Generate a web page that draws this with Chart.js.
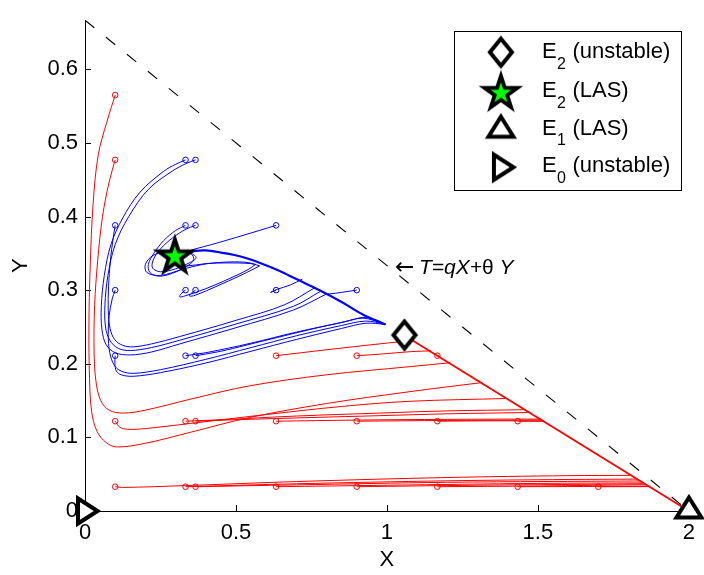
<!DOCTYPE html>
<html>
<head>
<meta charset="utf-8">
<script src="https://cdn.jsdelivr.net/npm/chart.js@4.4.0/dist/chart.umd.min.js"></script>
<style>
  html, body { margin: 0; padding: 0; background: #fff; }
  #wrap { position: relative; width: 704px; height: 575px; }
</style>
</head>
<body>
<div id="wrap"><canvas id="phaseChart"></canvas></div>
<script>
// ================================
// Data
// ================================
const xTicks = [0, 0.5, 1, 1.5, 2];
const yTicks = [0, 0.1, 0.2, 0.3, 0.4, 0.5, 0.6];
const xMax = 2;
const yMax = 0.6667;

// equilibria
const e0 = [0, 0];
const e1 = [2, 0];
const e2Unstable = [1.058, 0.239];
const e2Stable = [0.2975, 0.3455];

// T = qX + θY boundary
const boundary = [[0, 0.6667], [2, 0]];
const noteAt = [1.03, 0.3224];

// legend text
const legendSubs = ['2', '2', '1', '0'];
const legendTags = ['(unstable)', '(LAS)', '(LAS)', '(unstable)'];

// red orbits (go to E1)
const redA = [[0.1,0.565],[0.072,0.528],[0.044,0.484],[0.027,0.418],[0.017,0.33],[0.013,0.25],[0.015,0.18],[0.022,0.135],[0.04,0.108],[0.07,0.093],[0.105,0.087],[0.2,0.092],[0.35,0.107],[0.545,0.127],[0.8,0.146],[1.074,0.162],[1.315,0.1745]];
const redB = [[0.1,0.477],[0.08,0.447],[0.058,0.40],[0.042,0.34],[0.032,0.28],[0.03,0.22],[0.036,0.177],[0.052,0.15],[0.08,0.137],[0.125,0.133],[0.2,0.137],[0.35,0.152],[0.545,0.17],[0.8,0.185],[1.074,0.196],[1.21,0.2014]];
const redC = [[0.1,0.122],[0.115,0.114],[0.14,0.111],[0.2,0.112],[0.35,0.119],[0.6,0.131],[0.85,0.142],[1.074,0.149],[1.4,0.1529]];
const redD = [[0.333,0.122],[0.45,0.124],[0.7,0.129],[0.975,0.133],[1.2,0.136],[1.46,0.1376]];
const redE = [[0.366,0.122],[0.5,0.124],[0.75,0.127],[0.975,0.1295],[1.2,0.132],[1.475,0.1338]];
const redF = [[0.633,0.122],[0.9,0.1235],[1.2,0.1245],[1.51,0.1249]];
const redG = [[0.9,0.122],[1.2,0.123],[1.515,0.1236]];
const redH = [[1.167,0.122],[1.35,0.1225],[1.52,0.1223]];
const redI = [[1.433,0.122],[1.521,0.122]];
const redJ = [[0.633,0.211],[0.8,0.219],[0.975,0.227],[1.085,0.2316]];
const redK = [[0.9,0.211],[0.975,0.213],[1.08,0.2165],[1.146,0.2176]];
const redL = [[1.167,0.211],[1.172,0.211]];
const redM = [[0.1,0.033],[0.125,0.032],[0.333,0.0345],[0.7,0.040],[1.2,0.0455],[1.6,0.048],[1.81,0.0484]];
const redN = [[0.333,0.033],[0.7,0.037],[1.2,0.041],[1.6,0.0428],[1.83,0.0433]];
const redO = [[0.366,0.033],[0.7,0.0355],[1.2,0.039],[1.84,0.0408]];
const redP = [[0.633,0.033],[1.0,0.035],[1.5,0.0375],[1.85,0.0382]];
const redQ = [[0.9,0.033],[1.3,0.035],[1.855,0.0369]];
const redR = [[1.167,0.033],[1.5,0.034],[1.86,0.0357]];
const redS = [[1.433,0.033],[1.868,0.0336]];
const redT = [[1.7,0.033],[1.87,0.0331]];
const redManifold = [[1.085,0.2316],[2,0]];

// blue orbits (go to stable E2)
const blueManifold = [[0.995,0.2535],[0.92,0.267],[0.85,0.284],[0.777,0.300],[0.70,0.315],[0.645,0.326],[0.58,0.337],[0.512,0.346],[0.45,0.351],[0.40,0.354],[0.36,0.353],[0.33,0.350]];
const blueA = [[0.333,0.477],[0.3,0.471],[0.259,0.461],[0.182,0.433],[0.125,0.398],[0.086,0.362],[0.064,0.32],[0.054,0.278],[0.056,0.247],[0.07,0.226],[0.1,0.215],[0.15,0.212],[0.22,0.216],[0.314,0.227],[0.5,0.249],[0.69,0.273],[0.8,0.2948]];
const blueB = [[0.366,0.477],[0.335,0.472],[0.29,0.462],[0.21,0.437],[0.145,0.4],[0.1,0.362],[0.076,0.32],[0.066,0.28],[0.068,0.25],[0.082,0.232],[0.11,0.221],[0.15,0.218],[0.22,0.222],[0.314,0.232],[0.5,0.254],[0.69,0.278],[0.78,0.2985]];
const blueC = [[0.1,0.388],[0.093,0.37],[0.084,0.34],[0.078,0.305],[0.077,0.272],[0.083,0.248],[0.098,0.233],[0.125,0.225],[0.16,0.223],[0.22,0.227],[0.314,0.237],[0.5,0.259],[0.66,0.28],[0.76,0.303]];
const blueD = [[0.1,0.30],[0.09,0.288],[0.08,0.265],[0.077,0.24],[0.082,0.215],[0.097,0.198],[0.12,0.19],[0.16,0.187],[0.25,0.192],[0.4,0.206],[0.55,0.222],[0.7,0.238],[0.85,0.252],[0.93,0.258],[0.995,0.2535]];
const blueE = [[0.1,0.211],[0.099,0.2],[0.104,0.19],[0.12,0.185],[0.16,0.183],[0.25,0.188],[0.4,0.201],[0.55,0.217],[0.7,0.233],[0.85,0.248],[0.93,0.255],[0.995,0.2535]];
const blueF = [[0.333,0.211],[0.4,0.215],[0.55,0.228],[0.7,0.243],[0.85,0.256],[0.92,0.262],[0.995,0.2535]];
const blueG = [[0.366,0.211],[0.45,0.217],[0.6,0.232],[0.75,0.247],[0.88,0.259],[0.93,0.263],[0.995,0.2535]];
const blueH = [[0.333,0.388],[0.3,0.381],[0.26,0.367],[0.228,0.35],[0.21,0.335],[0.215,0.324],[0.245,0.319],[0.29,0.323],[0.335,0.332],[0.36,0.341],[0.35,0.35],[0.32,0.351],[0.298,0.346]];
const blueI = [[0.366,0.388],[0.335,0.383],[0.29,0.371],[0.25,0.356],[0.226,0.341],[0.224,0.33],[0.25,0.325],[0.3,0.329],[0.345,0.337],[0.368,0.344],[0.35,0.35],[0.31,0.349],[0.298,0.346]];
const blueJ = [[0.633,0.388],[0.52,0.374],[0.42,0.362],[0.365,0.356],[0.33,0.351]];
const blueK = [[0.333,0.30],[0.318,0.295],[0.314,0.291],[0.33,0.292],[0.4,0.302],[0.48,0.316],[0.54,0.328],[0.565,0.335],[0.565,0.335],[0.53,0.338],[0.46,0.338],[0.39,0.335],[0.32,0.328],[0.25,0.32],[0.205,0.324],[0.2,0.335],[0.225,0.347],[0.27,0.352],[0.298,0.346]];
const blueL = [[0.366,0.30],[0.35,0.295],[0.346,0.292],[0.365,0.293],[0.44,0.306],[0.51,0.319],[0.56,0.329],[0.578,0.333],[0.578,0.333],[0.55,0.336],[0.47,0.337],[0.4,0.336],[0.34,0.333],[0.3,0.334],[0.298,0.346]];
const blueM = [[0.633,0.30],[0.615,0.297],[0.615,0.297],[0.635,0.301],[0.68,0.307],[0.72,0.315]];
const blueN = [[0.9,0.30],[0.85,0.297],[0.81,0.295],[0.795,0.2955]];

const redOrbits = [redA, redB, redC, redD, redE, redF, redG, redH, redI, redJ, redK, redL, redM, redN, redO, redP, redQ, redR, redS, redT];
const blueOrbits = [blueA, blueB, blueC, blueD, blueE, blueF, blueG, blueH, blueI, blueJ, blueK, blueL, blueM, blueN];

// ================================
// Marker images (MATLAB style)
// ================================
function makeCanvas(w, h) {
    const c = document.createElement('canvas');
    c.width = w; c.height = h;
    return c;
}

function diamondMarker() {
    const c = makeCanvas(36, 40), g = c.getContext('2d');
    g.translate(18, 20);
    g.beginPath();
    g.moveTo(0, -13.5); g.lineTo(11, 0); g.lineTo(0, 13.5); g.lineTo(-11, 0); g.closePath();
    g.fillStyle = '#fff'; g.fill();
    g.lineWidth = 4; g.lineJoin = 'miter'; g.strokeStyle = '#000'; g.stroke();
    return c;
}

function starMarker() {
    const c = makeCanvas(54, 54), g = c.getContext('2d');
    g.translate(27, 27);
    const star = (R) => {
        g.beginPath();
        for (let i = 0; i < 10; i++) {
            const r = i % 2 === 0 ? R : R * 0.382;
            const a = -Math.PI / 2 + i * Math.PI / 5;
            g.lineTo(r * Math.cos(a), r * Math.sin(a));
        }
        g.closePath();
    };
    star(23.5); g.fillStyle = '#000'; g.fill();
    star(11); g.fillStyle = '#00ff00'; g.fill();
    return c;
}

function triangleUpMarker() {
    const c = makeCanvas(38, 40), g = c.getContext('2d');
    g.translate(19, 20);
    g.beginPath();
    g.moveTo(0, -13.5); g.lineTo(12.5, 6.5); g.lineTo(-12.5, 6.5); g.closePath();
    g.fillStyle = '#fff'; g.fill();
    g.lineWidth = 4; g.lineJoin = 'miter'; g.strokeStyle = '#000'; g.stroke();
    return c;
}

function triangleRightMarker() {
    const c = makeCanvas(40, 38), g = c.getContext('2d');
    g.translate(20, 19);
    g.beginPath();
    g.moveTo(12.5, 0); g.lineTo(-7, 12.5); g.lineTo(-7, -12.5); g.closePath();
    g.fillStyle = '#fff'; g.fill();
    g.lineWidth = 4; g.lineJoin = 'miter'; g.strokeStyle = '#000'; g.stroke();
    return c;
}

const diamondImg = diamondMarker();
const starImg = starMarker();
const triUpImg = triangleUpMarker();
const triRightImg = triangleRightMarker();

// ================================
// Datasets
// ================================
const pt = p => ({ x: p[0], y: p[1] });

function orbit(points, color) {
    return {
        data: points.map(pt),
        showLine: true,
        borderColor: color,
        borderWidth: 1,
        tension: 0.35,
        pointRadius: ctx => ctx.dataIndex === 0 ? 2.8 : 0,
        pointBorderColor: color,
        pointBorderWidth: 1,
        pointBackgroundColor: 'rgba(0,0,0,0)',
        pointHoverRadius: 0
    };
}

function marker(p, img) {
    return { data: [pt(p)], pointStyle: img, pointRadius: 10, showLine: false, clip: false };
}

const datasets = [
    marker(e2Stable, starImg),
    marker(e2Unstable, diamondImg),
    marker(e1, triUpImg),
    marker(e0, triRightImg),
    {
        data: boundary.map(pt), showLine: true, borderColor: '#000', borderWidth: 1.1,
        borderDash: [12, 15], pointRadius: 0, tension: 0
    },
    { data: blueManifold.map(pt), showLine: true, borderColor: '#0000ff', borderWidth: 2.2, pointRadius: 0, tension: 0.35 },
    { data: redManifold.map(pt), showLine: true, borderColor: '#ff0000', borderWidth: 1.8, pointRadius: 0, tension: 0, clip: false },
    ...blueOrbits.map(o => orbit(o, '#0000ff')),
    ...redOrbits.map(o => orbit(o, '#ff0000'))
];

// ================================
// Overlay: inward ticks, note, legend
// ================================
const overlay = {
    id: 'overlay',
    beforeDatasetsDraw(chart) {
        const { ctx, chartArea: a, scales: { x, y } } = chart;
        ctx.save();
        ctx.strokeStyle = '#000';
        ctx.lineWidth = 1;
        xTicks.forEach(v => {
            const px = Math.round(x.getPixelForValue(v)) + 0.5;
            ctx.beginPath(); ctx.moveTo(px, a.bottom); ctx.lineTo(px, a.bottom - 6); ctx.stroke();
        });
        yTicks.forEach(v => {
            const py = Math.round(y.getPixelForValue(v)) + 0.5;
            ctx.beginPath(); ctx.moveTo(a.left, py); ctx.lineTo(a.left + 6, py); ctx.stroke();
        });
        ctx.restore();
    },
    afterDraw(chart) {
        const { ctx, chartArea: a, scales: { x, y } } = chart;
        const family = '"Liberation Sans", Arial, "DejaVu Sans", sans-serif';
        ctx.save();
        ctx.fillStyle = '#000';
        ctx.textAlign = 'left';
        ctx.textBaseline = 'alphabetic';

        // arrow note: ←T=qX+θ Y
        const nx = x.getPixelForValue(noteAt[0]);
        const ny = y.getPixelForValue(noteAt[1]);
        ctx.font = '23px "DejaVu Sans", sans-serif';
        ctx.fillText('\u2190', nx - 1, ny);
        let tx = nx + 23;
        ctx.font = 'italic 21px ' + family;
        ctx.fillText('T=qX+', tx, ny);
        tx += ctx.measureText('T=qX+').width;
        ctx.font = '21px ' + family;
        ctx.fillText('\u03B8', tx, ny);
        tx += ctx.measureText('\u03B8').width;
        ctx.font = 'italic 21px ' + family;
        ctx.fillText(' Y', tx, ny);

        // legend box
        const boxW = 227, boxH = 159;
        const boxL = a.right - 8 - boxW;
        const boxT = a.top + 11;
        ctx.fillStyle = '#fff';
        ctx.fillRect(boxL, boxT, boxW, boxH);
        ctx.strokeStyle = '#000';
        ctx.lineWidth = 1;
        ctx.strokeRect(Math.round(boxL) + 0.5, Math.round(boxT) + 0.5, boxW, boxH);

        const imgs = [diamondImg, starImg, triUpImg, triRightImg];
        const markY = [21, 62, 99, 136];
        const textY = [27, 66, 103.5, 141];
        const mx = boxL + 47;
        imgs.forEach((img, i) => {
            ctx.drawImage(img, mx - img.width / 2, boxT + markY[i] - img.height / 2);
            const lx = boxL + 88, ly = boxT + textY[i];
            ctx.fillStyle = '#000';
            ctx.font = '22px ' + family;
            ctx.fillText('E', lx, ly);
            const ew = ctx.measureText('E').width;
            ctx.font = '16px ' + family;
            ctx.fillText(legendSubs[i], lx + ew + 0.5, ly + 10.5);
            const sw = ctx.measureText(legendSubs[i]).width;
            ctx.font = '22px ' + family;
            ctx.fillText(legendTags[i], lx + ew + sw + 7, ly);
        });
        ctx.restore();
    }
};

// ================================
// Chart
// ================================
Chart.defaults.font.family = '"Liberation Sans", Arial, sans-serif';
Chart.defaults.color = '#000';

new Chart(document.getElementById('phaseChart'), {
    type: 'scatter',
    data: { datasets },
    options: {
        responsive: true,
        maintainAspectRatio: false,
        animation: false,
        events: [],
        layout: { padding: { left: 0, right: 14, top: 5, bottom: 0 } },
        plugins: { legend: { display: false }, tooltip: { enabled: false } },
        scales: {
            x: {
                type: 'linear', min: 0, max: xMax,
                grid: { display: false, drawTicks: false },
                border: { display: true, color: '#000', width: 1 },
                afterBuildTicks: s => { s.ticks = xTicks.map(v => ({ value: v })); },
                afterFit: s => { s.height = 64; },
                ticks: { autoSkip: false, maxRotation: 0, padding: 9, font: { size: 22 }, callback: v => String(v) },
                title: { display: true, text: 'X', font: { size: 22 }, padding: { top: 0, bottom: 2 } }
            },
            y: {
                type: 'linear', min: 0, max: yMax,
                grid: { display: false, drawTicks: false },
                border: { display: true, color: '#000', width: 1 },
                afterBuildTicks: s => { s.ticks = yTicks.map(v => ({ value: v })); },
                afterFit: s => { s.width = 85; },
                ticks: { autoSkip: false, padding: 7, font: { size: 22 }, callback: v => String(v) },
                title: { display: true, text: 'Y', font: { size: 22 }, padding: { top: 8, bottom: 0 } }
            }
        }
    },
    plugins: [overlay]
});
</script>
</body>
</html>
